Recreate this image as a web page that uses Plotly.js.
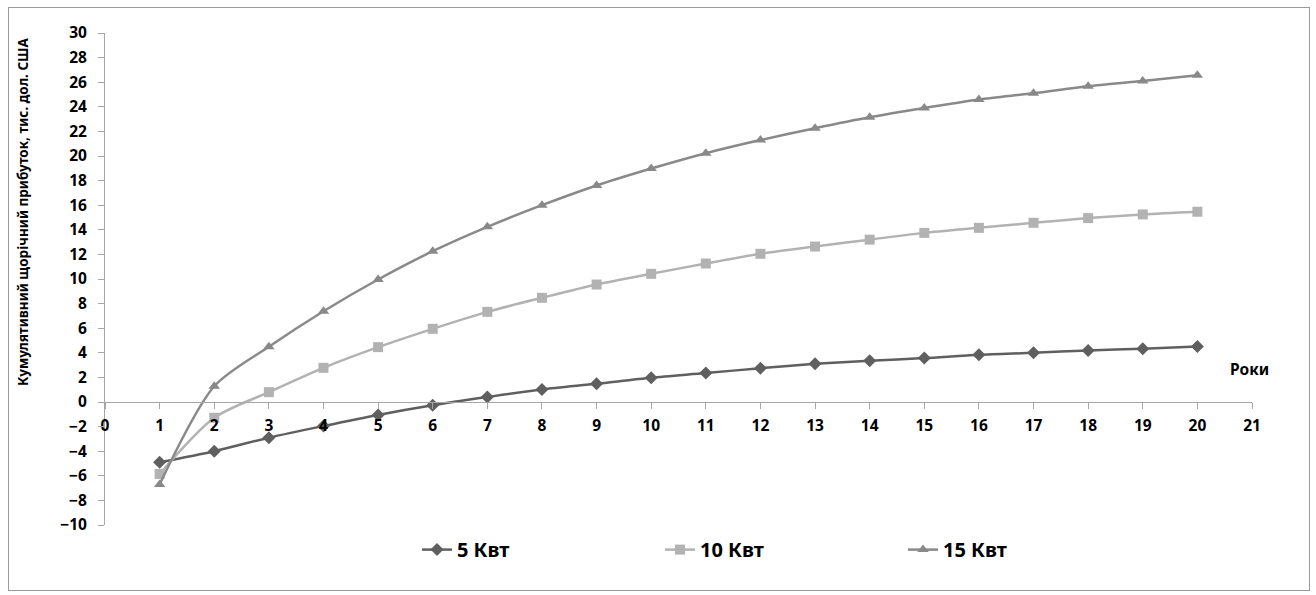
<!DOCTYPE html>
<html>
<head>
<meta charset="utf-8">
<script src="https://cdn.plot.ly/plotly-3.0.1.min.js"></script>
<style>
  html, body { margin: 0; padding: 0; background: #fff; }
  #chart { width: 1316px; height: 595px; }
  #frame { position: absolute; left: 8px; top: 7px; width: 1300px; height: 582px; border: 1px solid #9a9a9a; pointer-events: none; }
</style>
</head>
<body>
<div id="chart"></div>
<div id="frame"></div>
<script>
const years = [1,2,3,4,5,6,7,8,9,10,11,12,13,14,15,16,17,18,19,20];
const kw5  = [-4.9,-4.0,-2.9,-1.95,-1.05,-0.27,0.4,1.02,1.48,1.97,2.35,2.75,3.1,3.35,3.57,3.84,4.0,4.19,4.33,4.52];
const kw10 = [-5.85,-1.28,0.8,2.78,4.46,5.95,7.33,8.47,9.55,10.42,11.26,12.05,12.64,13.2,13.75,14.16,14.57,14.95,15.25,15.47];
const kw15 = [-6.7,1.28,4.49,7.38,9.96,12.26,14.24,16.0,17.6,18.98,20.23,21.3,22.26,23.15,23.9,24.6,25.1,25.67,26.1,26.57];
const seriesNames = ['5 Квт','10 Квт','15 Квт'];
const yTitle = 'Кумулятивний щорічний прибуток, тис. дол. США';
const xTitle = 'Роки';

const FONT = 'Noto Sans, Open Sans, DejaVu Sans, sans-serif';

const traces = [
  {x: years, y: kw5, name: seriesNames[0], type: 'scatter', mode: 'lines+markers',
   line: {color: '#5f5f5f', width: 2.5, shape: 'spline', smoothing: 0.8},
   marker: {symbol: 'diamond', size: 10, color: '#5f5f5f'}},
  {x: years, y: kw10, name: seriesNames[1], type: 'scatter', mode: 'lines+markers',
   line: {color: '#b2b2b2', width: 2.5, shape: 'spline', smoothing: 0.8},
   marker: {symbol: 'square', size: 10, color: '#b2b2b2'}},
  {x: years, y: kw15, name: seriesNames[2], type: 'scatter', mode: 'lines+markers',
   line: {color: '#898989', width: 2.5, shape: 'spline', smoothing: 0.8},
   marker: {symbol: 'triangle-up', size: 10, color: '#898989'}}
];

const layout = {
  width: 1316, height: 595,
  margin: {l: 105, r: 64, t: 33, b: 70},
  paper_bgcolor: '#ffffff', plot_bgcolor: '#ffffff',
  font: {family: FONT, color: '#000'},
  xaxis: {
    range: [0, 21], dtick: 1, tick0: 0,
    anchor: 'free', position: 0.25,
    showgrid: false, zeroline: false,
    showline: true, linecolor: '#a6a6a6', linewidth: 1,
    ticks: 'outside', ticklen: 6, tickcolor: '#a6a6a6', ticklabelstandoff: 3,
    tickfont: {family: FONT, size: 15.5, weight: 700, color: '#000'}
  },
  yaxis: {
    range: [-10, 30], dtick: 2, tick0: 0,
    showgrid: false, zeroline: false,
    showline: true, linecolor: '#a6a6a6', linewidth: 1,
    ticks: 'outside', ticklen: 6, tickcolor: '#a6a6a6', ticklabelstandoff: 8,
    tickfont: {family: FONT, size: 15.5, weight: 700, color: '#000'}
  },
  showlegend: true,
  legend: {
    orientation: 'h', x: 0.272, xanchor: 'left', y: -0.05, yanchor: 'middle',
    entrywidth: 198, entrywidthmode: 'pixels',
    font: {family: FONT, size: 20, weight: 700, color: '#000'},
    itemwidth: 30
  },
  annotations: [
    {text: yTitle, xref: 'paper', yref: 'paper', x: -0.072, y: 0.637, xanchor: 'center', yanchor: 'middle',
     textangle: -90, showarrow: false, font: {family: FONT, size: 13.5, weight: 700, color: '#000'}},
    {text: xTitle, xref: 'x', yref: 'y', x: 20.95, y: 2.7, xanchor: 'center', yanchor: 'middle',
     showarrow: false, font: {family: FONT, size: 15.5, weight: 700, color: '#000'}}
  ]
};

Plotly.newPlot('chart', traces, layout, {displayModeBar: false, staticPlot: true});
</script>
</body>
</html>
